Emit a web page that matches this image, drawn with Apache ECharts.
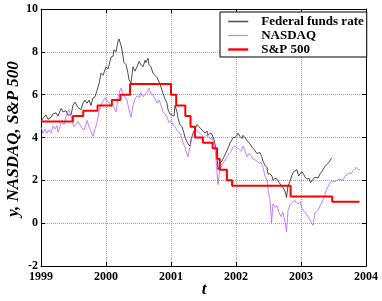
<!DOCTYPE html>
<html>
<head>
<meta charset="utf-8">
<script src="https://cdn.jsdelivr.net/npm/echarts@6/dist/echarts.min.js"></script>
<style>
html,body{margin:0;padding:0;background:#fff;}
#chart{width:382px;height:301px;}
</style>
</head>
<body>
<div id="chart"></div>
<script>
// ---- data ----
var seriesNames = ['Federal funds rate', 'NASDAQ', 'S&P 500'];

var fedT = [1999.000,1999.031,1999.077,1999.108,1999.154,1999.185,1999.231,1999.262,1999.308,1999.338,
1999.385,1999.415,1999.462,1999.492,1999.523,1999.569,1999.615,1999.646,1999.677,1999.708,
1999.738,1999.769,1999.800,1999.831,1999.862,1999.892,1999.923,1999.954,2000.000,2000.031,
2000.077,2000.108,2000.123,2000.154,2000.185,2000.200,2000.231,2000.246,2000.277,2000.308,
2000.338,2000.354,2000.385,2000.415,2000.446,2000.477,2000.508,2000.538,2000.569,2000.600,
2000.615,2000.646,2000.662,2000.692,2000.723,2000.754,2000.785,2000.831,2000.862,2000.877,
2000.908,2000.938,2000.954,2000.985,2001.015,2001.046,2001.062,2001.092,2001.108,2001.138,
2001.169,2001.200,2001.215,2001.246,2001.262,2001.292,2001.308,2001.338,2001.369,2001.400,
2001.431,2001.462,2001.492,2001.523,2001.554,2001.569,2001.600,2001.631,2001.662,2001.677,
2001.703,2001.723,2001.738,2001.754,2001.785,2001.800,2001.831,2001.862,2001.892,2001.908,
2001.938,2001.954,2001.985,2002.015,2002.031,2002.062,2002.092,2002.108,2002.138,2002.169,
2002.185,2002.215,2002.246,2002.277,2002.292,2002.323,2002.338,2002.369,2002.395,2002.415,
2002.446,2002.477,2002.492,2002.523,2002.554,2002.569,2002.600,2002.631,2002.662,2002.692,
2002.723,2002.754,2002.777,2002.800,2002.831,2002.862,2002.885,2002.908,2002.938,2002.962,
2002.985,2003.015,2003.046,2003.062,2003.092,2003.123,2003.146,2003.169,2003.200,2003.231,
2003.262,2003.292,2003.318,2003.338,2003.369,2003.400,2003.431,2003.462,2003.477];
var fedY = [4.75,4.9,5.05,4.85,4.95,5.1,5.15,5.0,5.35,5.2,
5.25,5.05,5.05,5.5,5.65,5.4,5.3,5.6,5.75,5.6,
5.75,5.5,5.85,5.9,6.2,6.5,7.0,6.9,7.3,7.2,
7.75,7.8,8.1,8.0,8.5,8.6,8.3,8.1,7.5,7.4,
7.0,6.7,6.55,7.3,7.1,7.3,7.55,7.4,7.3,7.6,
7.5,7.7,7.4,7.3,7.0,6.9,6.8,6.5,6.2,6.05,
5.8,5.6,5.3,5.1,5.15,5.0,5.5,5.2,4.9,4.6,
4.5,4.2,4.0,3.8,3.7,3.6,3.9,4.2,4.4,4.6,
4.5,4.4,4.3,4.2,4.3,4.1,4.2,4.15,3.9,3.85,
3.3,2.5,2.6,2.8,2.9,3.0,3.2,3.4,3.6,3.75,
3.9,4.0,4.0,4.1,4.2,4.05,3.95,4.1,4.0,3.85,
3.8,3.7,3.55,3.45,3.4,3.25,3.2,3.3,3.1,2.9,
2.7,2.6,2.3,2.3,2.2,2.0,2.1,2.05,1.9,1.85,
1.65,1.5,1.2,1.75,1.95,2.25,2.4,2.45,2.5,2.2,
2.3,2.4,2.25,2.15,2.05,2.1,1.9,1.95,2.1,2.15,
2.1,2.3,2.4,2.45,2.65,2.75,2.85,3.0,3.05];

var nasdaqT = [1999.000,1999.031,1999.062,1999.092,1999.123,1999.154,1999.185,1999.215,1999.246,1999.262,
1999.292,1999.323,1999.354,1999.385,1999.400,1999.431,1999.462,1999.477,1999.508,1999.538,
1999.569,1999.600,1999.631,1999.662,1999.692,1999.708,1999.738,1999.769,1999.800,1999.831,
1999.862,1999.892,1999.923,1999.954,1999.985,2000.015,2000.046,2000.077,2000.108,2000.138,
2000.154,2000.185,2000.215,2000.231,2000.262,2000.292,2000.323,2000.354,2000.385,2000.415,
2000.446,2000.477,2000.508,2000.538,2000.569,2000.600,2000.631,2000.662,2000.692,2000.723,
2000.754,2000.785,2000.815,2000.846,2000.877,2000.908,2000.938,2000.969,2001.000,2001.031,
2001.062,2001.092,2001.123,2001.154,2001.185,2001.215,2001.238,2001.262,2001.292,2001.323,
2001.354,2001.385,2001.415,2001.446,2001.477,2001.508,2001.538,2001.569,2001.600,2001.631,
2001.662,2001.677,2001.700,2001.723,2001.746,2001.769,2001.800,2001.831,2001.862,2001.892,
2001.923,2001.954,2001.985,2002.015,2002.046,2002.077,2002.108,2002.138,2002.169,2002.200,
2002.231,2002.262,2002.292,2002.323,2002.354,2002.385,2002.415,2002.446,2002.477,2002.500,
2002.523,2002.546,2002.569,2002.600,2002.631,2002.662,2002.692,2002.723,2002.754,2002.777,
2002.800,2002.831,2002.862,2002.892,2002.923,2002.954,2002.985,2003.015,2003.046,2003.077,
2003.108,2003.138,2003.162,2003.185,2003.215,2003.246,2003.277,2003.308,2003.338,2003.369,
2003.400,2003.431,2003.462,2003.492,2003.523,2003.554,2003.585,2003.615,2003.646,2003.677,
2003.708,2003.738,2003.769,2003.800,2003.831,2003.862,2003.885,2003.908];
var nasdaqY = [4.5,4.2,4.4,4.2,4.35,4.2,4.55,4.4,4.55,4.25,
4.5,4.8,4.6,5.0,5.15,5.3,5.0,4.8,4.5,4.6,
4.75,4.6,4.45,4.35,4.6,4.8,4.5,4.3,4.05,4.4,
4.7,5.2,5.5,5.7,5.85,5.8,5.6,5.45,5.5,5.3,
5.2,5.85,6.2,6.3,6.05,5.9,5.75,5.3,4.95,5.5,
5.8,5.95,5.85,6.1,5.9,6.0,6.15,6.3,6.05,6.0,
5.8,5.6,5.75,5.5,5.2,5.1,4.95,4.7,4.8,4.6,
4.5,4.35,4.25,4.1,3.75,3.55,3.3,3.1,3.55,4.0,
4.25,4.35,4.3,4.2,4.1,4.0,4.1,4.05,3.95,4.0,
3.7,3.55,2.65,1.8,2.4,2.6,2.8,2.95,3.1,3.25,
3.35,3.55,3.6,3.65,3.45,3.35,3.6,3.4,3.1,3.25,
3.15,3.0,3.0,2.9,2.8,2.85,2.6,2.2,2.0,1.4,
1.1,0.0,0.9,0.75,0.8,0.5,0.3,0.5,0.05,-0.4,
0.6,0.85,0.95,1.05,1.0,0.9,1.0,0.7,0.55,0.45,
0.3,0.15,0.1,-0.1,0.5,0.55,0.7,0.9,1.1,1.35,
1.6,1.8,1.95,2.0,1.95,2.0,2.05,2.1,2.0,2.2,
2.25,2.35,2.3,2.45,2.55,2.6,2.5,2.5];

// step series: change dates and the level that holds from each date
var spT = [1999.00,1999.49,1999.65,1999.87,2000.09,2000.22,2000.37,2001.00,2001.08,2001.22,
2001.30,2001.37,2001.49,2001.64,2001.71,2001.75,2001.86,2001.94,2002.84,2003.48,2003.90];
var spY = [4.75,5.0,5.25,5.5,5.75,6.0,6.5,6.0,5.5,5.0,
4.5,4.0,3.75,3.5,3.0,2.5,2.0,1.75,1.25,1.0,1.0];

var xMin = 1999, xMax = 2004, xStep = 1;
var yMin = -2, yMax = 10, yStep = 2;
var xName = 't';
var yName = 'y, NASDAQ, S&P 500';

function zip(a, b) {
  var n = Math.min(a.length, b.length), out = [];
  for (var i = 0; i < n; i++) out.push([a[i], b[i]]);
  return out;
}

var FONT = '"Liberation Serif", "Times New Roman", serif';
var chart = echarts.init(document.getElementById('chart'), null, {renderer: 'canvas'});

var labelStyle = {color: '#000', fontFamily: FONT, fontWeight: 'bold', fontSize: 12};
var gridLine = {show: true, lineStyle: {color: '#a0a0a0', type: 'dotted', width: 1}};

chart.setOption({
  animation: false,
  backgroundColor: '#fff',
  grid: {left: 41, right: 16, top: 9, bottom: 35},
  legend: {
    orient: 'vertical', left: 220, top: 12,
    itemWidth: 20, itemHeight: 14, itemGap: 1,
    padding: [3, 3, 1, 7],
    borderColor: '#000', borderWidth: 1, backgroundColor: '#fff',
    itemStyle: {opacity: 0},
    textStyle: {fontFamily: FONT, fontWeight: 'bold', fontSize: 13, color: '#000', padding: [0, 0, 0, 8]},
    data: [
      {name: seriesNames[0], lineStyle: {color: '#555', width: 1.6}},
      {name: seriesNames[1], lineStyle: {color: '#c77dff', width: 1.2}},
      {name: seriesNames[2], lineStyle: {color: '#ff0000', width: 2.4}}
    ]
  },
  xAxis: [{
    type: 'value', min: xMin, max: xMax, interval: xStep,
    axisLine: {onZero: false, lineStyle: {color: '#000', width: 1}},
    axisTick: {inside: true, length: 4, lineStyle: {color: '#000'}},
    splitLine: gridLine,
    axisLabel: Object.assign({margin: 5, formatter: function (v) { return String(v); }}, labelStyle)
  }, {
    type: 'value', position: 'top', min: xMin, max: xMax, interval: xStep,
    axisLine: {onZero: false, lineStyle: {color: '#000', width: 1}},
    axisTick: {inside: true, length: 4, lineStyle: {color: '#000'}},
    axisLabel: {show: false}, splitLine: {show: false}
  }],
  yAxis: [{
    type: 'value', min: yMin, max: yMax, interval: yStep,
    axisLine: {show: true, onZero: false, lineStyle: {color: '#000', width: 1}},
    axisTick: {show: true, inside: true, length: 4, lineStyle: {color: '#000'}},
    splitLine: gridLine,
    axisLabel: Object.assign({margin: 3}, labelStyle)
  }, {
    type: 'value', position: 'right', min: yMin, max: yMax, interval: yStep,
    axisLine: {show: true, onZero: false, lineStyle: {color: '#000', width: 1}},
    axisTick: {show: true, inside: true, length: 4, lineStyle: {color: '#000'}},
    axisLabel: {show: false}, splitLine: {show: false}
  }],
  graphic: [{
    type: 'text', x: 14, y: 139, rotation: Math.PI / 2,
    style: {text: yName, font: 'italic bold 17px ' + FONT, fill: '#000', align: 'center', verticalAlign: 'middle'}
  }, {
    type: 'text', x: 204, y: 290,
    style: {text: xName, font: 'italic bold 17px ' + FONT, fill: '#000', align: 'center', verticalAlign: 'middle'}
  }],
  series: [{
    name: seriesNames[0], type: 'line', data: zip(fedT, fedY),
    symbol: 'none', showSymbol: false,
    lineStyle: {color: '#1e1e1e', width: 0.8}, itemStyle: {color: '#1e1e1e'}, z: 2
  }, {
    name: seriesNames[1], type: 'line', data: zip(nasdaqT, nasdaqY),
    symbol: 'none', showSymbol: false,
    lineStyle: {color: '#bb5cff', width: 0.8}, itemStyle: {color: '#bb5cff'}, z: 3
  }, {
    name: seriesNames[2], type: 'line', step: 'end', data: zip(spT, spY),
    symbol: 'none', showSymbol: false,
    lineStyle: {color: '#ff0000', width: 2}, itemStyle: {color: '#ff0000'}, z: 4
  }]
});
</script>
</body>
</html>
